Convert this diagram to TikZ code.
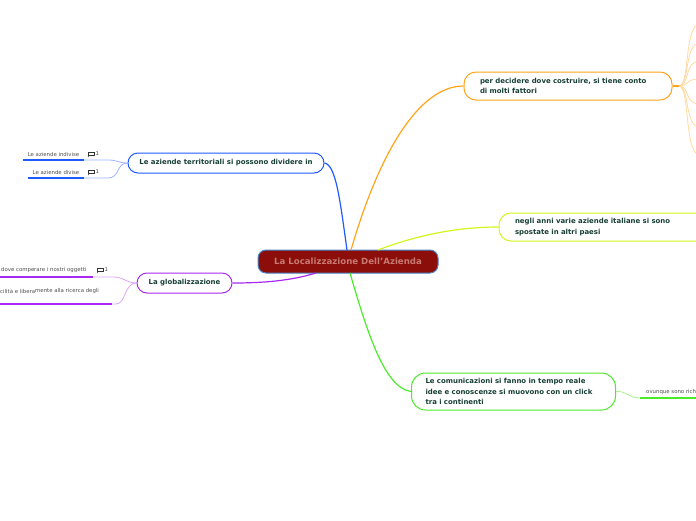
\documentclass[tikz,border=0pt]{standalone}
\usepackage{fontspec}
\setmainfont{DejaVu Sans}
\definecolor{txt}{HTML}{173F35}
\definecolor{subtxt}{HTML}{505050}
\definecolor{cblue}{HTML}{1F5BFF}
\definecolor{lblue}{HTML}{9DB5FF}
\definecolor{cpurp}{HTML}{A829F2}
\definecolor{lpurp}{HTML}{D9A8F8}
\definecolor{corange}{HTML}{FFA31A}
\definecolor{lorange}{HTML}{FFD9A0}
\definecolor{cyell}{HTML}{D4F51C}
\definecolor{cgreen}{HTML}{4CEB2A}
\definecolor{lgreen}{HTML}{A8F590}
\definecolor{cred}{HTML}{8B0E0A}
\definecolor{credtxt}{HTML}{C77A72}
\definecolor{cedge}{HTML}{4A86C8}
\tikzset{
  topic/.style={draw, line width=1pt, fill=white, rounded corners=10pt, font=\fontsize{6.95}{10.5}\selectfont\bfseries, text=txt, inner sep=0pt},
  sublbl/.style={font=\fontsize{5.4}{6}\selectfont, text=subtxt, inner sep=0pt},
  branch/.style={line width=1.2pt},
  thinl/.style={line width=0.8pt},
  under/.style={line width=1.6pt},
}
\newcommand{\cmticon}[1]{%
  \begin{scope}[shift={#1}]
    \draw[line width=0.8pt, black!80] (0,-2) rectangle (6,1.5);
    \draw[line width=0.6pt, black!80] (1,1.5) -- (0.5,3);
    \node[sublbl, anchor=west] at (7.5,0) {1};
  \end{scope}}
\begin{document}
\begin{tikzpicture}[x=1pt,y=-1pt]
\useasboundingbox (0,0) rectangle (696,520);
\clip (0,0) rectangle (696,520);

% central
\node[draw=cedge, line width=1pt, fill=cred, rounded corners=8pt, minimum width=180pt, minimum height=23pt, font=\fontsize{8.6}{10}\selectfont\bfseries, text=credtxt, inner sep=0pt] (c) at (348,261.5) {La Localizzazione Dell'Azienda};

% main topics
\node[topic, draw=cblue, minimum width=196pt, minimum height=20pt] (b) at (226,163) {Le aziende territoriali si possono dividere in};
\node[topic, draw=cpurp, minimum width=95pt, minimum height=20pt] (p) at (184.5,283) {La globalizzazione};
\node[topic, draw=corange, minimum width=208pt, minimum height=28pt, text width=176pt, align=left, rounded corners=12pt] (o) at (568,86) {per decidere dove costruire, si tiene conto\\di molti fattori};
\node[topic, draw=cyell, minimum width=230pt, minimum height=28pt, text width=198pt, align=left, rounded corners=12pt] (y) at (614,227) {negli anni varie aziende italiane si sono\\spostate in altri paesi};
\node[topic, draw=cgreen, minimum width=204pt, minimum height=37pt, text width=176pt, align=left, rounded corners=14pt] (g) at (513.5,391.5) {Le comunicazioni si fanno in tempo reale\\idee e conoscenze si muovono con un click\\tra i continenti};

% connectors from centre
\draw[branch, cblue] (347,250) .. controls (340,200) and (336,165) .. (b.east);
\draw[branch, corange] (351,250) .. controls (380,150) and (420,86) .. (o.west);
\draw[branch, cyell] (378,250) .. controls (420,234) and (460,227) .. (y.west);
\draw[branch, cgreen] (350,273) .. controls (368,335) and (385,388) .. (g.west);
\draw[branch, cpurp] (316,273) .. controls (290,281) and (262,283) .. (p.east);

% orange fan
\coordinate (ofan) at (679,86);
\draw[line width=1.4pt, corange] (o.east) -- (ofan);
\foreach \yy in {24,43,61,79,104,127,155}{
  \draw[thinl, lorange] (ofan) .. controls (690,86) and (684,\yy) .. (700,\yy);
}

% blue subtopics
\coordinate (bi1) at (23,160); \coordinate (bi2) at (84,160); \coordinate (bi3) at (108,160);
\coordinate (bd1) at (28,178); \coordinate (bd2) at (84,178); \coordinate (bd3) at (108,178);
\draw[under, cblue] (bi1) -- (bi2);
\draw[under, cblue] (bd1) -- (bd2);
\draw[thinl, lblue] (bi2) -- (bi3) .. controls (118,160) and (118,163) .. (b.west);
\draw[thinl, lblue] (bd2) -- (bd3) .. controls (120,178) and (116,163) .. (b.west);
\node[sublbl] (bt1) at (53.5,154) {Le aziende indivise};
\node[sublbl] (bt2) at (56,172) {Le aziende divise};
\cmticon{(88,154)}
\cmticon{(88,172)}

% purple subtopics
\coordinate (pa1) at (0,277); \coordinate (pa2) at (93,277); \coordinate (pa3) at (113,277);
\coordinate (pb1) at (0,304); \coordinate (pb2) at (112,304); \coordinate (pb3) at (116,304);
\draw[under, cpurp] (pa1) -- (pa2);
\draw[under, cpurp] (pb1) -- (pb2);
\draw[thinl, lpurp] (pa2) -- (pa3) .. controls (124,277) and (126,283) .. (p.west);
\draw[thinl, lpurp] (pb2) -- (pb3) .. controls (126,304) and (124,283) .. (p.west);
\node[sublbl, anchor=west] (pt1) at (1,270) {dove compe};
\node[sublbl, anchor=west] (pt2) at (34,270.5) {rare i nostri oggetti};
\node[sublbl, anchor=west] (pt3) at (0,291) {cilità e libera};
\node[sublbl, anchor=west] (pt4) at (35,291.5) {mente alla ricerca degli};
\cmticon{(97,270)}

% green subtopic
\coordinate (gs1) at (640,398);
\coordinate (gs2) at (700,398);
\draw[thinl, lgreen] (g.east) .. controls (628,391) and (628,398) .. (gs1);
\draw[under, cgreen] (gs1) -- (gs2);
\node[sublbl, anchor=west] (gt) at (646,392) {ovunque sono rich};
\end{tikzpicture}
\end{document}
